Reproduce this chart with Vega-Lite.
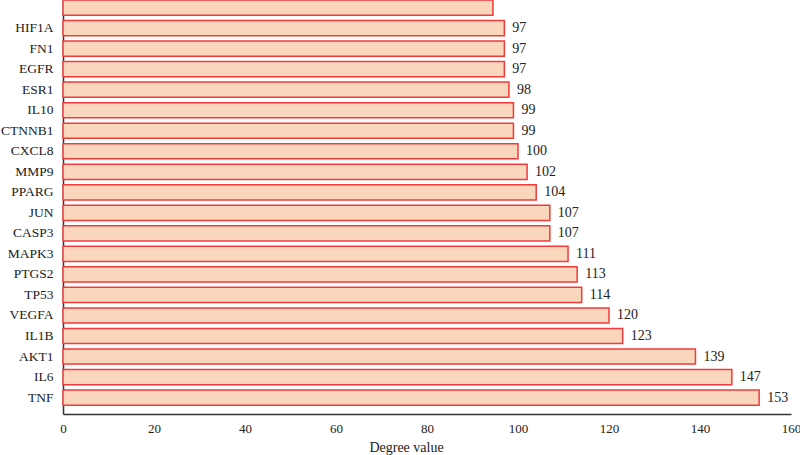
{
  "$schema": "https://vega.github.io/schema/vega-lite/v6.json",
  "width": 728,
  "height": 414,
  "autosize": {"type": "none"},
  "padding": {"left": 63, "top": 0, "right": 9, "bottom": 41},
  "background": "white",
  "config": {
    "view": {"stroke": null},
    "font": "Liberation Serif"
  },
  "data": {
    "values": [
      {"gene": " ", "degree": 94.5, "label": ""},
      {"gene": "HIF1A", "degree": 97, "label": "97"},
      {"gene": "FN1", "degree": 97, "label": "97"},
      {"gene": "EGFR", "degree": 97, "label": "97"},
      {"gene": "ESR1", "degree": 98, "label": "98"},
      {"gene": "IL10", "degree": 99, "label": "99"},
      {"gene": "CTNNB1", "degree": 99, "label": "99"},
      {"gene": "CXCL8", "degree": 100, "label": "100"},
      {"gene": "MMP9", "degree": 102, "label": "102"},
      {"gene": "PPARG", "degree": 104, "label": "104"},
      {"gene": "JUN", "degree": 107, "label": "107"},
      {"gene": "CASP3", "degree": 107, "label": "107"},
      {"gene": "MAPK3", "degree": 111, "label": "111"},
      {"gene": "PTGS2", "degree": 113, "label": "113"},
      {"gene": "TP53", "degree": 114, "label": "114"},
      {"gene": "VEGFA", "degree": 120, "label": "120"},
      {"gene": "IL1B", "degree": 123, "label": "123"},
      {"gene": "AKT1", "degree": 139, "label": "139"},
      {"gene": "IL6", "degree": 147, "label": "147"},
      {"gene": "TNF", "degree": 153, "label": "153"}
    ]
  },
  "encoding": {
    "y": {
      "field": "gene",
      "type": "nominal",
      "sort": null,
      "scale": {"paddingInner": 0.26, "paddingOuter": 0.215, "align": 0},
      "axis": {
        "title": null,
        "ticks": false,
        "labelPadding": 10,
        "labelFontSize": 13.5,
        "labelColor": "#222",
        "domainColor": "#333",
        "domainWidth": 1.5
      }
    },
    "x": {
      "field": "degree",
      "type": "quantitative",
      "scale": {"domain": [0, 160], "nice": false},
      "axis": {
        "values": [0, 20, 40, 60, 80, 100, 120, 140, 160],
        "title": "Degree value",
        "titleFontSize": 14,
        "titleFontWeight": "normal",
        "titleColor": "#222",
        "titleX": 343,
        "titleAlign": "center",
        "titlePadding": 5,
        "ticks": false,
        "grid": false,
        "labelPadding": 8,
        "labelFontSize": 13,
        "labelColor": "#222",
        "domainColor": "#333",
        "domainWidth": 1.5,
        "labelFlush": false
      }
    }
  },
  "layer": [
    {
      "mark": {"type": "bar", "fill": "#FAD7BC", "stroke": "#F23A3A", "strokeWidth": 1.5}
    },
    {
      "mark": {"type": "text", "align": "left", "baseline": "middle", "dx": 8, "fontSize": 14, "color": "#222"},
      "encoding": {"text": {"field": "label"}}
    }
  ]
}
